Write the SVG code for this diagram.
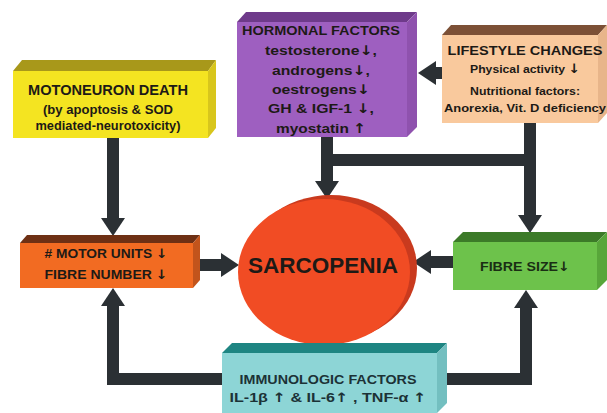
<svg xmlns="http://www.w3.org/2000/svg" width="607" height="413" viewBox="0 0 607 413">
<defs>
<style>
text{font-family:"Liberation Sans",Arial,sans-serif;font-weight:bold;text-anchor:middle;fill:#1d1a16}
.ar{font-family:"DejaVu Sans",sans-serif;font-weight:bold}
.c{fill:none;stroke:#2b3034;stroke-width:12;stroke-linejoin:miter}
</style>
<marker id="ah" markerUnits="userSpaceOnUse" markerWidth="20" markerHeight="26" viewBox="0 0 20 26" refX="3" refY="13" orient="auto">
<path d="M0,1 L18,13 L0,25 Z" fill="#2b3034"/>
</marker>
</defs>
<rect width="607" height="413" fill="#ffffff"/>

<g id="connectors">
<path class="c" d="M113,138 L113,221" marker-end="url(#ah)"/>
<path class="c" d="M327,137 L327,184" marker-end="url(#ah)"/>
<path class="c" d="M321,160 L536,160"/>
<path class="c" d="M530,123 L530,218" marker-end="url(#ah)"/>
<path class="c" d="M442,73 L433,73" marker-end="url(#ah)"/>
<path class="c" d="M200,265 L224,265" marker-end="url(#ah)"/>
<path class="c" d="M453,262 L428,262" marker-end="url(#ah)"/>
<path class="c" d="M222,379 L113,379 L113,303" marker-end="url(#ah)"/>
<path class="c" d="M447,379 L526,379 L526,305" marker-end="url(#ah)"/>
</g>

<g id="motoneuron">
<polygon points="13,71 22,60 216,60 208,71" fill="#a8981a"/>
<polygon points="208,71 216,60 216,128 208,138" fill="#d8c61c"/>
<rect x="13" y="71" width="195" height="67" fill="#f4e421"/>
<text x="108" y="95" font-size="14" textLength="160" lengthAdjust="spacingAndGlyphs">MOTONEURON DEATH</text>
<text x="108" y="114" font-size="12" textLength="130" lengthAdjust="spacingAndGlyphs">(by apoptosis &amp; SOD</text>
<text x="108" y="130" font-size="12" textLength="145" lengthAdjust="spacingAndGlyphs">mediated-neurotoxicity)</text>
</g>

<g id="hormonal">
<polygon points="237,22 246,12 417,12 407,22" fill="#6e3a8a"/>
<polygon points="407,22 417,12 417,127 407,137" fill="#8f52ae"/>
<rect x="237" y="22" width="170" height="115" fill="#9e5fc0"/>
<text x="321" y="35" font-size="13" textLength="158" lengthAdjust="spacingAndGlyphs">HORMONAL FACTORS</text>
<text x="321" y="55" font-size="13.5" textLength="112" lengthAdjust="spacingAndGlyphs">testosterone<tspan class="ar">↓</tspan>,</text>
<text x="321" y="75" font-size="13.5" textLength="98" lengthAdjust="spacingAndGlyphs">androgens<tspan class="ar">↓</tspan>,</text>
<text x="321" y="94" font-size="13.5" textLength="98" lengthAdjust="spacingAndGlyphs">oestrogens<tspan class="ar">↓</tspan></text>
<text x="321" y="113" font-size="13.5" textLength="106" lengthAdjust="spacingAndGlyphs">GH &amp; IGF-1 <tspan class="ar">↓</tspan>,</text>
<text x="321" y="133" font-size="13.5" textLength="90" lengthAdjust="spacingAndGlyphs">myostatin <tspan class="ar">↑</tspan></text>
</g>

<g id="lifestyle">
<polygon points="442,35 451,25 607,25 598,35" fill="#7c5036"/>
<polygon points="598,35 607,25 607,113 598,123" fill="#e8b58a"/>
<rect x="442" y="35" width="156" height="88" fill="#f9c99d"/>
<text x="525" y="55" font-size="12.5" textLength="155" lengthAdjust="spacingAndGlyphs">LIFESTYLE CHANGES</text>
<text x="525" y="73" font-size="11.5" textLength="110" lengthAdjust="spacingAndGlyphs">Physical activity <tspan class="ar" font-size="13">↓</tspan></text>
<text x="525" y="95" font-size="11" textLength="110" lengthAdjust="spacingAndGlyphs">Nutritional factors:</text>
<text x="525" y="112" font-size="11" textLength="162" lengthAdjust="spacingAndGlyphs">Anorexia, Vit. D deficiency</text>
</g>

<g id="motorunits">
<polygon points="20,243 27,235 200,235 193,243" fill="#6e3014"/>
<polygon points="193,243 200,235 200,280 193,288" fill="#c2541c"/>
<rect x="20" y="243" width="173" height="45" fill="#f26b22"/>
<text x="106" y="258" font-size="13" textLength="123" lengthAdjust="spacingAndGlyphs"># MOTOR UNITS <tspan class="ar">↓</tspan></text>
<text x="106" y="279" font-size="13" textLength="123" lengthAdjust="spacingAndGlyphs">FIBRE NUMBER <tspan class="ar">↓</tspan></text>
</g>

<g id="sarcopenia">
<ellipse cx="331" cy="268" rx="86" ry="73" fill="#c93a1e"/>
<ellipse cx="324" cy="272" rx="86" ry="73" fill="#f14c24"/>
<text x="323" y="273" font-size="22" textLength="150" lengthAdjust="spacingAndGlyphs">SARCOPENIA</text>
</g>

<g id="fibresize">
<polygon points="453,242 463,232 607,232 597,242" fill="#3c7a28"/>
<polygon points="597,242 607,232 607,280 597,290" fill="#58a63a"/>
<rect x="453" y="242" width="144" height="48" fill="#6dc24b"/>
<text x="525" y="271" font-size="13" textLength="90" lengthAdjust="spacingAndGlyphs" style="fill:#1a2e14">FIBRE SIZE<tspan class="ar">↓</tspan></text>
</g>

<g id="immunologic">
<polygon points="222,353 232,343 447,343 437,353" fill="#1e8582"/>
<polygon points="437,353 447,343 447,403 437,413" fill="#73bfc0"/>
<rect x="222" y="353" width="215" height="60" fill="#8dd5d6"/>
<text x="328" y="384" font-size="12" textLength="177" lengthAdjust="spacingAndGlyphs" style="fill:#1c3236">IMMUNOLOGIC FACTORS</text>
<text x="328" y="402" font-size="13" textLength="197" lengthAdjust="spacingAndGlyphs" style="fill:#1c3236">IL-1β <tspan class="ar">↑</tspan> &amp; IL-6<tspan class="ar">↑</tspan> , TNF-α <tspan class="ar">↑</tspan></text>
</g>
</svg>
